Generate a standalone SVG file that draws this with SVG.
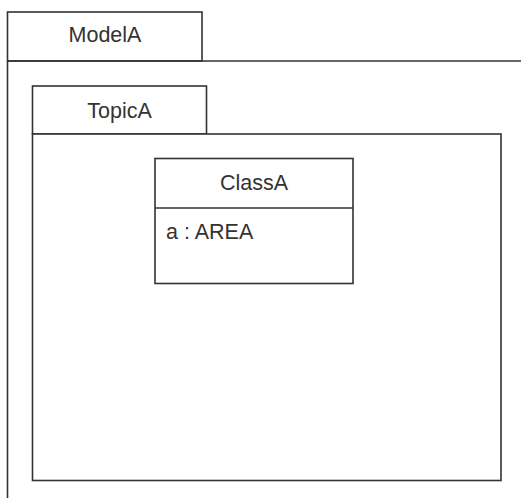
<svg xmlns="http://www.w3.org/2000/svg" width="521" height="498" viewBox="0 0 521 498">
<style>
.b{fill:#fff;stroke:#333;stroke-width:1.6}
.l{fill:none;stroke:#333;stroke-width:1.6}
.t{font-family:"Liberation Sans",Arial,sans-serif;font-size:21.5px;fill:#333}
</style>
<rect width="521" height="498" fill="#fff"/>
<g id="ModelA">
<rect class="b" x="7.5" y="12" width="194.5" height="49"/>
<path class="l" d="M7.5 61 H521 M7.5 61 V498"/>
<text class="t" x="105" y="42" text-anchor="middle">ModelA</text>
</g>
<g id="TopicA">
<rect class="b" x="32.5" y="86" width="174" height="48"/>
<rect class="b" x="32.5" y="134" width="468.5" height="346.5"/>
<text class="t" x="119.5" y="118" text-anchor="middle">TopicA</text>
</g>
<g id="ClassA">
<rect class="b" x="155" y="158.5" width="198" height="125"/>
<path class="l" d="M155 208 H353"/>
<text class="t" x="254" y="190" text-anchor="middle">ClassA</text>
<text class="t" x="166" y="239">a : AREA</text>
</g>
<g id="connectors"/>
</svg>
